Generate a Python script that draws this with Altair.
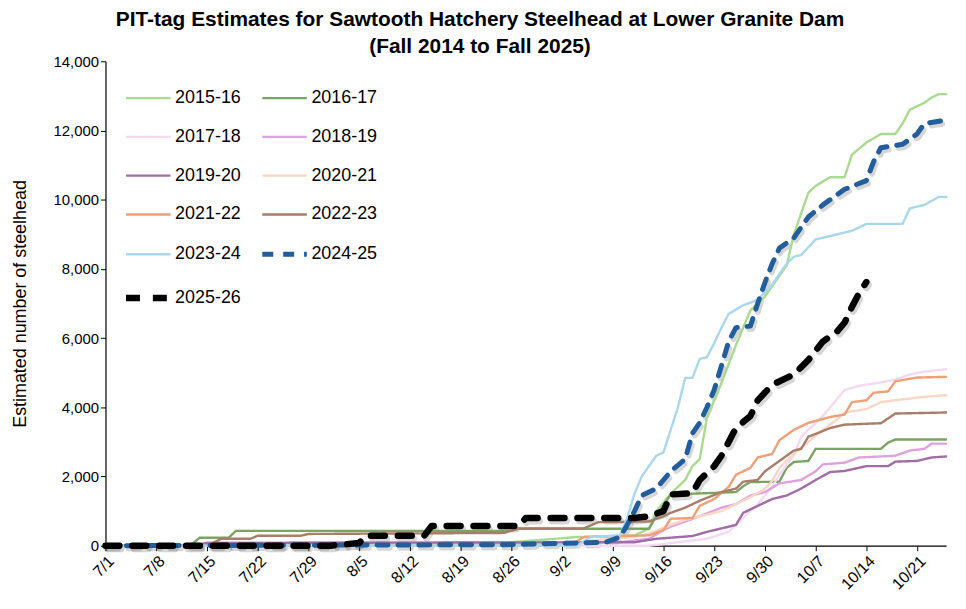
import datetime
import pandas as pd
import altair as alt

seasons = ["2015-16", "2016-17", "2017-18", "2018-19", "2019-20", "2020-21",
           "2021-22", "2022-23", "2023-24", "2024-25", "2025-26"]

# cumulative estimates at the dates where the slope changes
s1516_dates = ["7/1", "8/24", "8/26", "9/4", "9/12", "9/14", "9/15", "9/17", "9/19", "9/20",
               "9/21", "9/22", "9/24", "9/26", "9/28", "9/30", "10/2", "10/3", "10/4", "10/6",
               "10/7", "10/9", "10/11", "10/12", "10/14", "10/16", "10/18", "10/19", "10/20",
               "10/22", "10/23", "10/24", "10/25"]
s1516_vals = [0, 0, 100, 250, 300, 490, 1000, 1500, 1900, 2300,
              2500, 3700, 4700, 5800, 6800, 7200, 7800, 8100, 9000, 10200,
              10400, 10650, 10650, 11300, 11650, 11900, 11900, 12200, 12600,
              12800, 12950, 13050, 13050]

s1617_dates = ["7/1", "7/12", "7/13", "7/14", "7/18", "7/19", "8/26", "8/27", "9/14", "9/15",
               "9/17", "9/26", "9/27", "9/28", "10/2", "10/3", "10/4", "10/6", "10/7", "10/16",
               "10/17", "10/18", "10/25"]
s1617_vals = [0, 0, 60, 230, 230, 430, 430, 490, 490, 850,
              1480, 1550, 1720, 1840, 1850, 2250, 2420, 2450, 2800, 2800,
              2980, 3070, 3070]

s1718_dates = ["7/1", "9/14", "9/18", "9/22", "9/25", "9/27", "9/29", "10/1", "10/2", "10/4",
               "10/5", "10/6", "10/8", "10/10", "10/11", "10/13", "10/16", "10/18", "10/20",
               "10/22", "10/25"]
s1718_vals = [0, 0, 100, 200, 400, 800, 1200, 1700, 2050, 2600,
              3150, 3350, 3750, 4250, 4500, 4620, 4720, 4800, 4950,
              5030, 5100]

s1819_dates = ["7/1", "7/13", "7/15", "9/10", "9/14", "9/16", "9/17", "9/19", "9/21", "9/24",
               "9/26", "9/28", "9/30", "10/2", "10/5", "10/7", "10/8", "10/11", "10/13", "10/18",
               "10/20", "10/22", "10/23", "10/25"]
s1819_vals = [0, 0, 80, 100, 200, 450, 550, 700, 850, 1100,
              1200, 1450, 1550, 1800, 1900, 2150, 2350, 2400, 2550, 2600,
              2750, 2800, 2950, 2950]

s1920_dates = ["7/1", "7/13", "7/15", "9/12", "9/15", "9/20", "9/22", "9/24", "9/26", "9/27",
               "9/29", "10/1", "10/3", "10/5", "10/7", "10/9", "10/11", "10/14", "10/17",
               "10/18", "10/21", "10/23", "10/25"]
s1920_vals = [0, 0, 80, 100, 200, 280, 400, 500, 600, 950,
              1150, 1350, 1450, 1650, 1900, 2130, 2160, 2300, 2300,
              2430, 2450, 2550, 2580]

s2021_dates = ["7/1", "9/4", "9/6", "9/12", "9/14", "9/17", "9/19", "9/22", "9/24", "9/26",
               "9/28", "9/30", "10/1", "10/2", "10/4", "10/6", "10/8", "10/10", "10/11",
               "10/14", "10/16", "10/19", "10/22", "10/25"]
s2021_vals = [0, 0, 150, 250, 350, 600, 750, 900, 1000, 1200,
              1400, 1650, 1870, 2250, 2650, 3000, 3350, 3650, 3850,
              3950, 4150, 4230, 4300, 4350]

s2122_dates = ["7/1", "9/3", "9/5", "9/14", "9/16", "9/17", "9/20", "9/21", "9/23", "9/25",
               "9/26", "9/28", "9/29", "10/1", "10/2", "10/4", "10/6", "10/9", "10/11",
               "10/12", "10/14", "10/15", "10/17", "10/18", "10/21", "10/25"]
s2122_vals = [0, 0, 250, 300, 450, 780, 800, 1150, 1350, 1700,
              2050, 2250, 2550, 2650, 3050, 3350, 3550, 3720, 3790,
              4150, 4200, 4420, 4460, 4750, 4860, 4880]

s2223_dates = ["7/1", "7/15", "7/16", "7/17", "7/21", "7/22", "7/28", "7/29", "8/25", "8/27",
               "9/5", "9/7", "9/14", "9/16", "9/17", "9/19", "9/21", "9/24", "9/26", "9/27",
               "9/29", "9/30", "10/2", "10/4", "10/5", "10/6", "10/7", "10/9", "10/11",
               "10/16", "10/17", "10/18", "10/25"]
s2223_vals = [0, 0, 100, 200, 200, 290, 290, 340, 370, 500,
              500, 680, 700, 850, 950, 1100, 1300, 1550, 1650, 1850,
              1900, 2150, 2450, 2750, 2800, 3150, 3230, 3400, 3500,
              3540, 3680, 3820, 3850]

s2324_dates = ["7/1", "9/4", "9/6", "9/10", "9/11", "9/12", "9/13", "9/15", "9/16", "9/17",
               "9/18", "9/19", "9/20", "9/21", "9/22", "9/23", "9/24", "9/25", "9/27", "9/29",
               "10/1", "10/3", "10/4", "10/5", "10/7", "10/9", "10/12", "10/14", "10/19",
               "10/20", "10/22", "10/24", "10/25"]
s2324_vals = [0, 0, 250, 300, 800, 1500, 2000, 2600, 2700, 3350,
              4000, 4850, 4850, 5400, 5450, 5850, 6300, 6700, 6950, 7100,
              7550, 8150, 8350, 8400, 8850, 8950, 9100, 9300, 9300,
              9750, 9850, 10080, 10080]

s2425_dates = ["7/1", "8/25", "9/8", "9/10", "9/11", "9/12", "9/13", "9/15", "9/17", "9/19",
               "9/20", "9/21", "9/22", "9/23", "9/24", "9/25", "9/26", "9/28", "9/29", "9/30",
               "10/1", "10/2", "10/4", "10/6", "10/8", "10/11", "10/14", "10/15", "10/16",
               "10/19", "10/21", "10/22", "10/25"]
s2425_vals = [0, 30, 100, 250, 600, 1000, 1450, 1650, 2150, 2500,
              3250, 3550, 4000, 4500, 5200, 5900, 6300, 6350, 7000, 7600,
              8150, 8600, 8900, 9500, 9850, 10300, 10550, 11100, 11500,
              11600, 11900, 12200, 12300]

s2526_dates = ["7/1", "8/1", "8/5", "8/6", "8/14", "8/15", "8/27", "8/28", "9/12", "9/14",
               "9/16", "9/17", "9/20", "9/21", "9/23", "9/24", "9/26", "9/28", "9/29", "10/1",
               "10/3", "10/4", "10/6", "10/8", "10/10", "10/11", "10/12", "10/13", "10/14"]
s2526_vals = [0, 0, 80, 290, 290, 570, 570, 800, 800, 850,
              1000, 1480, 1520, 1900, 2300, 2600, 3400, 3750, 4200, 4650,
              4850, 4950, 5370, 5900, 6200, 6450, 6900, 7300, 7620]

series_dates = [s1516_dates, s1617_dates, s1718_dates, s1819_dates, s1920_dates, s2021_dates,
                s2122_dates, s2223_dates, s2324_dates, s2425_dates, s2526_dates]
series_vals = [s1516_vals, s1617_vals, s1718_vals, s1819_vals, s1920_vals, s2021_vals,
               s2122_vals, s2223_vals, s2324_vals, s2425_vals, s2526_vals]

colors = ["#A8DA90", "#7BA463", "#F4DAF1", "#E0A2DE", "#A06EA4", "#F9D6C6",
          "#EEA077", "#A87D69", "#A9D8EE", "#215E9B", "#000000"]
dashes = [[1, 0]] * 9 + [[11, 10], [14, 13]]
widths = [2.4] * 9 + [5, 6.5]

# the legend fills column by column, so list the seasons in that order
legend_order = seasons[0::2] + seasons[1::2]

start = datetime.date(2025, 7, 1)


def day_of_season(md):
    m, d = md.split("/")
    return (datetime.date(2025, int(m), int(d)) - start).days


rows = []
for season, ds, vs, w in zip(seasons, series_dates, series_vals, widths):
    for md, v in zip(ds, vs):
        rows.append({"season": season, "day": day_of_season(md), "value": v, "w": w})
df = pd.DataFrame(rows)

color_of = dict(zip(seasons, colors))
dash_of = dict(zip(seasons, dashes))
width_of = dict(zip(seasons, widths))

FONT = "Liberation Sans"

legend = alt.Legend(title=None, orient="none", legendX=34, legendY=28, columns=2,
                    columnPadding=10, rowPadding=21, labelFontSize=18, labelFont=FONT,
                    labelColor="black", labelOffset=18, symbolType="stroke",
                    symbolSize=2000, padding=0,
                    symbolStrokeWidth=alt.ExprRef(
                        "datum.value === '2025-26' ? 6.5 : datum.value === '2024-25' ? 5 : 2.4"))

x_enc = alt.X("day:Q",
              scale=alt.Scale(domain=[0, 116], nice=False, zero=False),
              axis=alt.Axis(values=list(range(0, 113, 7)), title=None, grid=False,
                            labelAngle=-45, labelFontSize=16,
                            labelExpr="timeFormat(datetime(2025, 6, 1 + datum.value), '%-m/%-d')"))
y_enc = alt.Y("value:Q",
              scale=alt.Scale(domain=[0, 14000], nice=False),
              axis=alt.Axis(values=list(range(0, 14001, 2000)), format=",.0f", grid=False,
                            title="Estimated number of steelhead", titlePadding=24))

base = alt.Chart(df)


def shadow_of(season):
    # soft drop shadow under a dashed season
    return base.transform_filter(alt.datum.season == season).mark_line(
        strokeCap="round", strokeJoin="round", color="black", opacity=0.16,
        strokeDash=dash_of[season], strokeWidth=width_of[season] + 0.5,
        xOffset=2, yOffset=3,
    ).encode(x=x_enc, y=y_enc, order=alt.Order("day:Q"))


lines = base.mark_line(strokeCap="round", strokeJoin="round").encode(
    x=x_enc,
    y=y_enc,
    color=alt.Color("season:N", sort=legend_order,
                    scale=alt.Scale(domain=legend_order,
                                    range=[color_of[s] for s in legend_order]),
                    legend=legend),
    strokeDash=alt.StrokeDash("season:N", sort=legend_order,
                              scale=alt.Scale(domain=legend_order,
                                              range=[dash_of[s] for s in legend_order]),
                              legend=legend),
    strokeWidth=alt.StrokeWidth("w:Q", scale=None, legend=None),
    order=alt.Order("day:Q"),
)

chart = alt.layer(shadow_of("2024-25"), shadow_of("2025-26"), lines).properties(
    width=845,
    height=487,
    autosize="none",
    padding={"left": 98, "top": 52, "right": 12, "bottom": 50},
    title=alt.TitleParams(
        text=["PIT-tag Estimates for Sawtooth Hatchery Steelhead at Lower Granite Dam",
              "(Fall 2014 to Fall 2025)"],
        font=FONT, fontSize=21, fontWeight="bold", color="black",
        anchor="middle", dx=-46, lineHeight=27, offset=-3),
).configure_view(
    stroke=None
).configure_axis(
    domainColor="black", tickColor="black", labelColor="black", titleColor="black",
    labelFont=FONT, titleFont=FONT, labelFontSize=15, titleFontSize=18,
    titleFontWeight="normal", tickSize=5, domainWidth=1.2
)

chart.save("out.html", embed_options={"renderer": "svg", "actions": False})
